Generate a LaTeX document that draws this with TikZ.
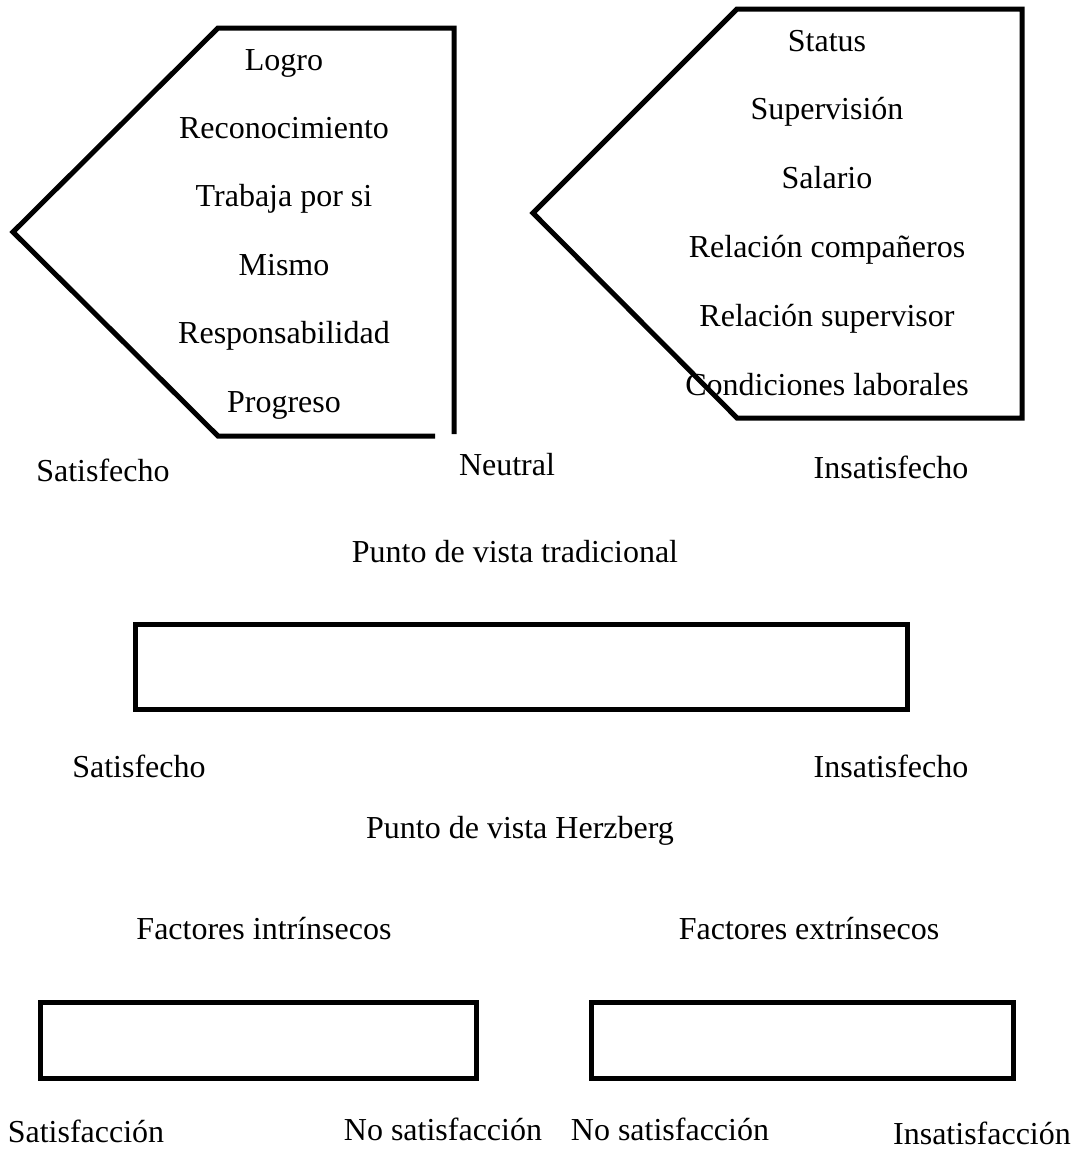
\documentclass[tikz,border=0pt]{standalone}
\usepackage{fontspec}
\setmainfont{Liberation Serif}
\begin{document}
\fontsize{32}{38}\selectfont
\begin{tikzpicture}[
    x=1pt, y=-1pt,
    box/.style={rectangle, draw, line width=5pt, minimum width=#1, inner sep=0pt},
    frame/.style={draw, line width=5pt, line join=miter},
    lbl/.style={anchor=base, inner sep=0pt}
]
\useasboundingbox (0,0) rectangle (1075,1149);

% Traditional view: intrinsic factors
\draw[frame] (435,436) -- (218,436) -- (13,232) -- (218,28) -- (454,28) -- (454,434);
\node[lbl] (logro) at (284,70) {Logro};
\node[lbl] (recon) at (284,138.4) {Reconocimiento};
\node[lbl] (trabaja) at (284,206.8) {Trabaja por si};
\node[lbl] (mismo) at (284,275.2) {Mismo};
\node[lbl] (resp) at (284,343.6) {Responsabilidad};
\node[lbl] (progreso) at (284,412) {Progreso};

% Traditional view: extrinsic factors
\draw[frame] (533,213) -- (737,9) -- (1022,9) -- (1022,418) -- (737,418) -- cycle;
\node[lbl] (status) at (827,51) {Status};
\node[lbl] (superv) at (827,119.8) {Supervisión};
\node[lbl] (salario) at (827,188.6) {Salario};
\node[lbl] (relcomp) at (827,257.4) {Relación compañeros};
\node[lbl] (relsup) at (827,326.2) {Relación supervisor};
\node[lbl] (condic) at (827,395) {Condiciones laborales};

\node[lbl] (sat1) at (103,481) {Satisfecho};
\node[lbl] (neutral) at (507,475) {Neutral};
\node[lbl] (insat1) at (891,478) {Insatisfecho};
\node[lbl] (tradic) at (515,562) {Punto de vista tradicional};

% Herzberg view
\node[box=772pt, minimum height=85pt] (herzbox) at (521,666.5) {};
\node[lbl] (sat2) at (139,777) {Satisfecho};
\node[lbl] (insat2) at (891,777) {Insatisfecho};
\node[lbl] (herzberg) at (520,838) {Punto de vista Herzberg};

% Factors
\node[lbl] (intrin) at (264,939) {Factores intrínsecos};
\node[lbl] (extrin) at (809,939) {Factores extrínsecos};
\node[box=436pt, minimum height=76pt] (intbox) at (258,1040) {};
\node[box=422pt, minimum height=76pt] (extbox) at (802,1040) {};
\node[lbl] (satisf) at (86,1142) {Satisfacción};
\node[lbl] (nosat1) at (443,1140) {No satisfacción};
\node[lbl] (nosat2) at (670,1140) {No satisfacción};
\node[lbl] (insatisf) at (982,1144) {Insatisfacción};
\end{tikzpicture}
\end{document}
